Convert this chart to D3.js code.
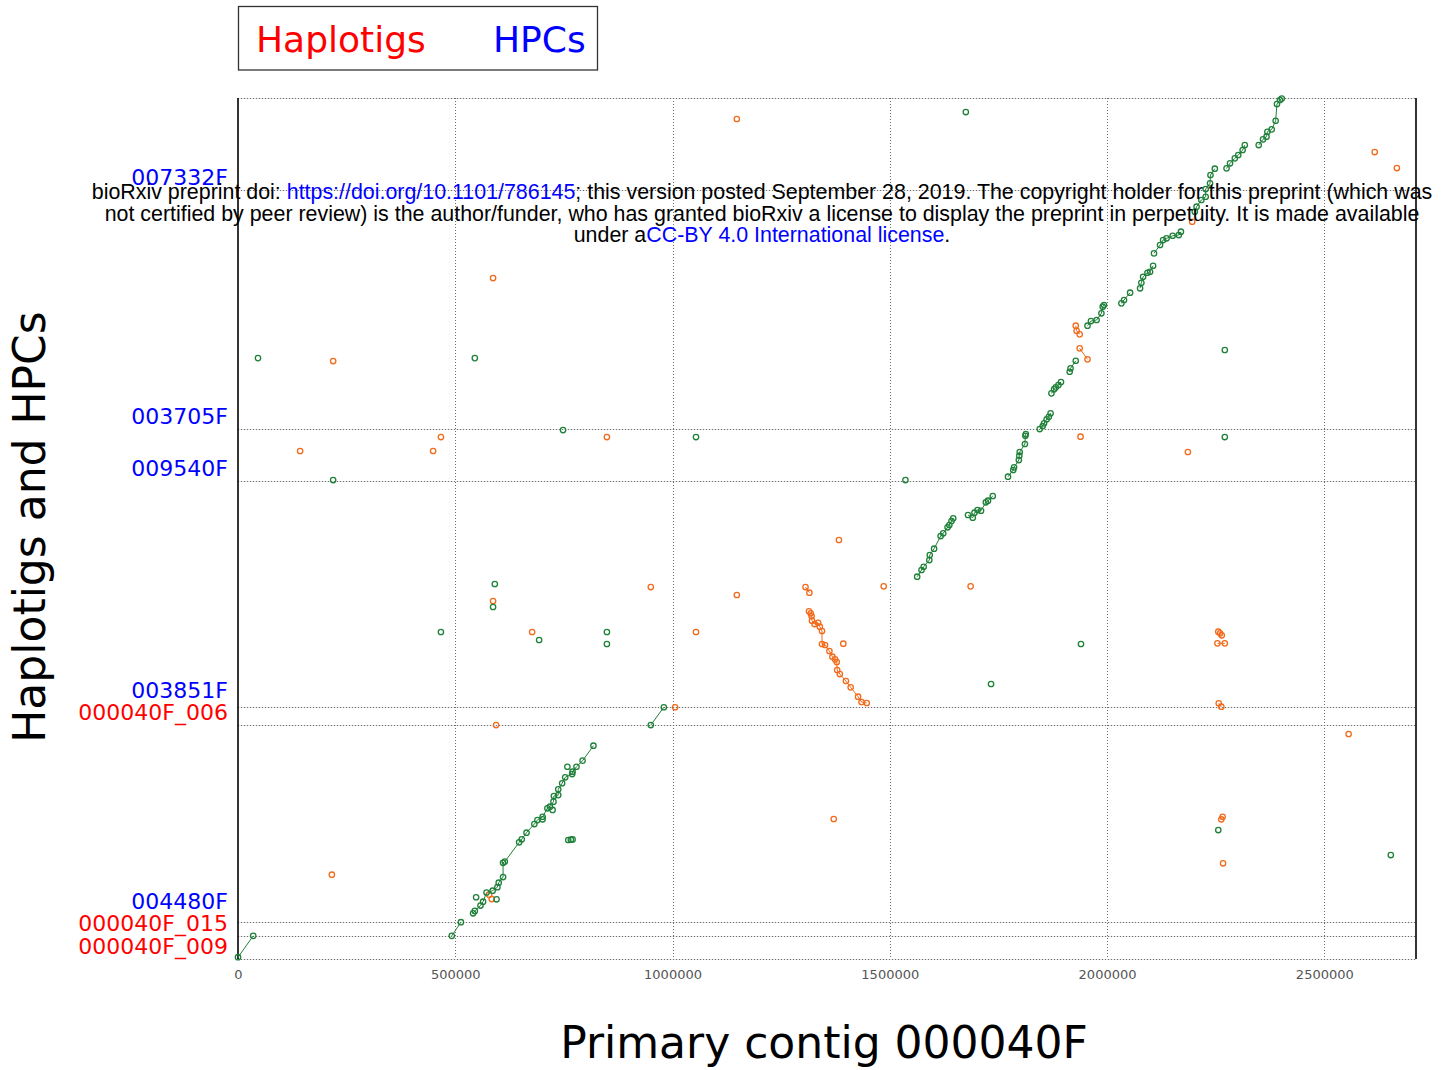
<!DOCTYPE html>
<html>
<head>
<meta charset="utf-8">
<script src="https://cdn.jsdelivr.net/npm/d3@7"></script>
<style>
  html, body { margin: 0; background: #fff; }
  svg { display: block; }
</style>
</head>
<body>
<svg id="chart" width="1453" height="1070"></svg>
<script>
// ---- Dot plot of haplotig / HPC alignments against primary contig 000040F ----

// x axis: position on the primary contig (bp)
const primaryLength = 2711000;
const xTicks = [0, 500000, 1000000, 1500000, 2000000, 2500000];

// y axis: associated contigs stacked end to end (bp offsets)
const contigNames  = ["000040F_009", "000040F_015", "004480F", "000040F_006", "003851F", "009540F", "003705F", "007332F"];
const contigKinds  = ["haplotig", "haplotig", "hpc", "haplotig", "hpc", "hpc", "hpc", "hpc"];
const contigStarts = [0, 39000, 62000, 394000, 424000, 805000, 892500, 1295000];
const stackedLength = 1450000;

// legend entries
const legendLabels = ["Haplotigs", "HPCs"];

// forward-strand alignments: each run is a chain of anchor points [x, y]
const forwardRuns = [
  [[0, 3000], [35000, 39000]],
  [[492000, 39000], [513000, 62000]],
  [[541000, 77000], [545000, 81000], [558000, 90000], [564000, 96500], [572000, 112000], [586000, 115000],
   [597000, 121000], [600000, 128500], [610000, 138000], [610000, 162000], [614000, 164000], [647000, 196500],
   [653000, 201600], [664000, 212700], [682000, 227300], [689000, 234000], [701000, 239600], [712000, 253800],
   [718000, 256500], [726000, 265000], [727000, 274500], [737000, 276000], [737000, 285800], [746000, 296000],
   [753000, 306000], [769000, 311500], [770000, 315400], [779000, 323800], [793000, 334000], [818000, 359200]],
  [[950000, 394000], [980000, 424000]],
  [[1563000, 643800], [1573000, 655100], [1578000, 660600], [1591000, 671900], [1592000, 680300], [1602000, 691000],
   [1617000, 712300], [1623000, 716900], [1633000, 727000], [1637000, 730900], [1642000, 737600], [1646000, 742100]],
  [[1680000, 747700], [1691000, 743200], [1695000, 751600], [1702000, 756100], [1710000, 754900], [1721000, 769100],
   [1726000, 771800], [1737000, 779700]],
  [[1772000, 812200], [1784000, 823500], [1786000, 828000], [1797000, 840300], [1798000, 847600], [1799000, 853800],
   [1811000, 867300], [1812000, 881200], [1813000, 884100]],
  [[1845000, 892500], [1852000, 897600], [1855000, 902100], [1861000, 908900], [1866000, 913200], [1870000, 919000]],
  [[1872000, 952600], [1878000, 959400], [1882000, 962700], [1888000, 966600], [1894000, 971700]],
  [[1914000, 989000], [1916000, 994700], [1928000, 1007500]],
  [[1955000, 1066500], [1963000, 1074400], [1976000, 1076100], [1987000, 1087400], [1990000, 1098500], [1993000, 1101300]],
  [[2033000, 1104200], [2039000, 1109800], [2053000, 1122100]],
  [[2076000, 1129500], [2079000, 1138900], [2083000, 1149000], [2093000, 1155700], [2099000, 1157400], [2106000, 1167500]],
  [[2108000, 1188400], [2122000, 1202400], [2129000, 1210800], [2137000, 1213700], [2151000, 1218000], [2165000, 1219200],
   [2170000, 1224800]],
  [[2202000, 1258500], [2206000, 1266900], [2217000, 1278200], [2227000, 1283700], [2227000, 1296700], [2237000, 1306300],
   [2238000, 1320300], [2248000, 1330900]],
  [[2275000, 1331500], [2283000, 1340000], [2294000, 1348400], [2302000, 1354000], [2312000, 1362400], [2317000, 1370800]],
  [[2349000, 1370800], [2359000, 1380400], [2367000, 1384800], [2369000, 1393200], [2379000, 1397200], [2388000, 1411700],
   [2391000, 1439800], [2398000, 1446600], [2402000, 1449000]]
];

// forward-strand single hits
const forwardHits = [
  [46000, 1012000], [545000, 1012000], [1675000, 1426300], [2271000, 1025600], [748000, 890800], [1054000, 879000],
  [2271000, 879000], [219000, 806600], [1536000, 806600], [591000, 631500], [587000, 592800], [467000, 550700],
  [693000, 537200], [849000, 550700], [849000, 530500], [1940000, 530500], [1733000, 463100], [2653000, 175100],
  [2256000, 217200], [548000, 104000], [595000, 100500], [724000, 251000], [701000, 235300], [758000, 323800],
  [760000, 200400], [766000, 200900], [770000, 201400]
];

// reverse-strand alignments
const reverseRuns = [
  [[1306000, 626400], [1315000, 616900]],
  [[1314000, 585500], [1318000, 582200], [1320000, 577600], [1321000, 569700], [1327000, 564100], [1335000, 566300],
   [1339000, 559600], [1344000, 552400], [1344000, 530500], [1351000, 528800], [1361000, 518700], [1368000, 509100],
   [1374000, 504700], [1378000, 500100], [1379000, 486700], [1385000, 479900], [1399000, 468200], [1410000, 457500],
   [1427000, 441700], [1435000, 432800], [1447000, 431100]],
  [[1937000, 1028400], [1955000, 1009900]],
  [[1928000, 1066500], [1930000, 1058000], [1937000, 1052000]],
  [[2256000, 551200], [2260000, 548500], [2264000, 545100]],
  [[2254000, 531600], [2271000, 531600]],
  [[2257000, 430600], [2263000, 424900]],
  [[2263000, 235300], [2266000, 239600]]
];

// reverse-strand single hits
const reverseHits = [
  [216000, 142000], [594000, 394000], [1006000, 424000], [1393000, 531000], [1486000, 627600], [1939000, 879600],
  [1686000, 627600], [2196000, 1241600], [1148000, 1414600], [2616000, 1359000], [2667000, 1332000], [587000, 1146800],
  [219000, 1007000], [849000, 879000], [467000, 879000], [143000, 855500], [449000, 855500], [2186000, 853800],
  [1383000, 705600], [587000, 602900], [950000, 626400], [1148000, 613000], [677000, 550700], [1054000, 550700],
  [2556000, 378900], [1371000, 235800], [2267000, 161200], [578000, 108000], [584000, 101000]
];

// ---- drawing ----
const W = 1453, H = 1070;
const plot = { left: 238, right: 1416, top: 98, bottom: 959 };
const fontMain = "'DejaVu Sans', Verdana, sans-serif";
const kindColor = { haplotig: "#ff0000", hpc: "#0000ff" };
const fwdColor = "#1f8039";
const revColor = "#f26a1b";

const svg = d3.select("#chart");
svg.append("rect").attr("width", W).attr("height", H).attr("fill", "#fff");

const x = d3.scaleLinear().domain([0, primaryLength]).range([plot.left, plot.right]);
const y = d3.scaleLinear().domain([0, stackedLength]).range([plot.bottom, plot.top]);

// grid: contig boundaries (horizontal) and x ticks (vertical)
const grid = svg.append("g");
const hLines = contigStarts.concat([stackedLength]);
function dotted(sel) {
  sel.attr("stroke", "#6e6e6e").attr("stroke-width", 1).attr("stroke-dasharray", "1,2");
}
grid.selectAll("line.hbase").data(hLines).join("line")
  .attr("x1", plot.left).attr("x2", plot.right)
  .attr("y1", d => Math.round(y(d)) + 0.5).attr("y2", d => Math.round(y(d)) + 0.5)
  .attr("stroke", "#e2e2e2").attr("stroke-width", 1);
grid.selectAll("line.h").data(hLines).join("line")
  .attr("x1", plot.left).attr("x2", plot.right)
  .attr("y1", d => Math.round(y(d)) + 0.5).attr("y2", d => Math.round(y(d)) + 0.5)
  .call(dotted);
grid.selectAll("line.v").data(xTicks.filter(t => t > 0)).join("line")
  .attr("x1", d => Math.round(x(d)) + 0.5).attr("x2", d => Math.round(x(d)) + 0.5)
  .attr("y1", plot.top).attr("y2", plot.bottom)
  .call(dotted);

// solid side borders
svg.append("line").attr("x1", plot.left).attr("x2", plot.left)
  .attr("y1", plot.top).attr("y2", plot.bottom).attr("stroke", "#000").attr("stroke-width", 1.6);
svg.append("line").attr("x1", plot.right).attr("x2", plot.right)
  .attr("y1", plot.top).attr("y2", plot.bottom).attr("stroke", "#000").attr("stroke-width", 1.6);

// x axis
const xAxis = d3.axisBottom(x).tickValues(xTicks).tickSize(0).tickFormat(d3.format("d"));
const gx = svg.append("g").attr("transform", `translate(0,${plot.bottom})`).call(xAxis);
gx.select(".domain").remove();
gx.selectAll("text")
  .attr("y", 20).attr("dy", 0)
  .attr("fill", "#555").attr("font-family", fontMain).attr("font-size", 13);

// alignments
const line = d3.line().x(d => x(d[0])).y(d => y(d[1]));
const marks = svg.append("g");
function drawRuns(runs, color) {
  marks.append("g").selectAll("path").data(runs).join("path")
    .attr("d", line).attr("fill", "none").attr("stroke", color).attr("stroke-width", 1);
}
function drawPoints(pts, color) {
  marks.append("g").selectAll("circle").data(pts).join("circle")
    .attr("cx", d => x(d[0])).attr("cy", d => y(d[1])).attr("r", 2.7)
    .attr("fill", "none").attr("stroke", color).attr("stroke-width", 1.3);
}
drawRuns(reverseRuns, revColor);
drawRuns(forwardRuns, fwdColor);
drawPoints(reverseRuns.flat().concat(reverseHits), revColor);
drawPoints(forwardRuns.flat().concat(forwardHits), fwdColor);

// contig labels at each contig start, nudged up so they never collide
const labelY = contigStarts.map(s => y(s) - 5);
for (let i = 1; i < labelY.length; i++) labelY[i] = Math.min(labelY[i], labelY[i - 1] - 22);
svg.append("g").selectAll("text").data(contigNames).join("text")
  .attr("x", 228).attr("y", (d, i) => labelY[i])
  .attr("text-anchor", "end")
  .attr("font-family", fontMain).attr("font-size", 22)
  .attr("fill", (d, i) => kindColor[contigKinds[i]])
  .text(d => d);

// axis titles
svg.append("text").attr("x", 824).attr("y", 1058).attr("text-anchor", "middle")
  .attr("font-family", fontMain).attr("font-size", 44).attr("fill", "#000")
  .text("Primary contig 000040F");
svg.append("text").attr("transform", "translate(45,527) rotate(-90)").attr("text-anchor", "middle")
  .attr("font-family", fontMain).attr("font-size", 44).attr("fill", "#000")
  .text("Haplotigs and HPCs");

// legend box
const legend = svg.append("g");
legend.append("rect").attr("x", 238.5).attr("y", 6.5).attr("width", 359).attr("height", 63.5)
  .attr("fill", "#fff").attr("stroke", "#333").attr("stroke-width", 1.3);
legend.selectAll("text").data(legendLabels).join("text")
  .attr("x", (d, i) => i === 0 ? 256 : 493).attr("y", 52)
  .attr("font-family", fontMain).attr("font-size", 36)
  .attr("fill", (d, i) => i === 0 ? kindColor.haplotig : kindColor.hpc)
  .text(d => d);

// preprint notice printed over the figure
const notice = [
  [["bioRxiv preprint doi: ", "#000"], ["https://doi.org/10.1101/786145", "#0000ff"],
   ["; this version posted September 28, 2019. The copyright holder for this preprint (which was", "#000"]],
  [["not certified by peer review) is the author/funder, who has granted bioRxiv a license to display the preprint in perpetuity. It is made available", "#000"]],
  [["under a", "#000"], ["CC-BY 4.0 International license", "#0000ff"], [".", "#000"]]
];
const noticeG = svg.append("g").attr("font-family", "'Liberation Sans', Arial, sans-serif").attr("font-size", 21.4);
notice.forEach((parts, i) => {
  const t = noticeG.append("text").attr("x", 762).attr("y", 199 + i * 21.5).attr("text-anchor", "middle");
  parts.forEach(p => t.append("tspan").attr("fill", p[1]).text(p[0]));
});
</script>
</body>
</html>
